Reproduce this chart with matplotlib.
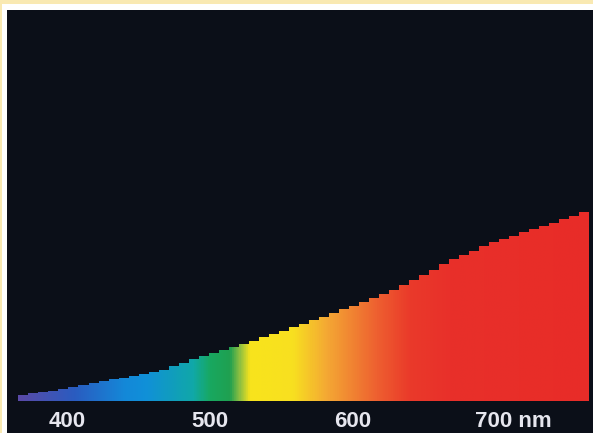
import numpy as np
import matplotlib
matplotlib.use("Agg")
import matplotlib.pyplot as plt
from matplotlib.colors import LinearSegmentedColormap
from matplotlib.patches import Rectangle
from matplotlib.transforms import ScaledTranslation

# spectrum steps: left edge wavelength (nm) of each step, step width 7 nm
wavelengths = [366, 373, 380, 387, 394, 401, 408, 415, 422, 429,
               436, 443, 450, 457, 464, 471, 478, 485, 492, 499,
               506, 513, 520, 527, 534, 541, 548, 555, 562, 569,
               576, 583, 590, 597, 604, 611, 618, 625, 632, 639,
               646, 653, 660, 667, 674, 681, 688, 695, 702, 709,
               716, 723, 730, 737, 744, 751, 758]
step_width = 7
# relative power of each step
power = [6, 8, 9, 10, 12, 14, 16, 18, 20, 22,
         23, 25, 27, 29, 31, 35, 38, 42, 45, 48,
         51, 54, 57, 60, 64, 67, 70, 74, 77, 81,
         84, 88, 92, 95, 99, 103, 107, 111, 116, 121,
         126, 131, 137, 142, 146, 150, 155, 159, 162, 165,
         169, 172, 175, 178, 182, 185, 189]

tick_values = [400, 500, 600, 700]
tick_labels = ["400", "500", "600", "700 nm"]

# colour of the light along the spectrum
color_stops = [(366, "#5a4aa8"), (405, "#2a5cc0"), (440, "#1488d8"),
               (455, "#1090d8"), (488, "#10a8a8"), (500, "#18a860"),
               (514, "#20a050"), (521, "#90c040"), (528, "#f8e41c"),
               (558, "#f8e020"), (582, "#f4a834"), (617, "#ee6030"),
               (640, "#ea3a2a"), (668, "#e8302a"), (765, "#e82c28")]

W, H = 593, 433
fig = plt.figure(figsize=(W / 100, H / 100), dpi=100)
fig.patch.set_facecolor("#f9e9b2")
# white frame and black panel
fig.patches.append(Rectangle((2 / W, 0), 1, (H - 4) / H, transform=fig.transFigure,
                             facecolor="white", edgecolor="none", zorder=-2))
fig.patches.append(Rectangle((7 / W, 0), 1, (H - 10) / H, transform=fig.transFigure,
                             facecolor="#0b0f18", edgecolor="none", zorder=-1))

ax = fig.add_axes([7 / W, (H - 401) / H, (W - 7) / W, (401 - 10) / H])
ax.set_facecolor("#0b0f18")

edges = wavelengths + [wavelengths[-1] + step_width]
steps = ax.stairs(power, edges, baseline=0, fill=True, color="none", linewidth=0)

lo, hi = color_stops[0][0], color_stops[-1][0]
cmap = LinearSegmentedColormap.from_list(
    "spectrum", [((w - lo) / (hi - lo), c) for w, c in color_stops])
grad = np.linspace(lo, hi, 800).reshape(1, -1)
im = ax.imshow(grad, cmap=cmap, vmin=lo, vmax=hi, aspect="auto",
               extent=(lo, hi, 0, max(power) + 5), interpolation="bilinear")
im.set_clip_path(steps)

ax.set_xlim(358, 767.8)
ax.set_ylim(0, 391)
ax.set_yticks([])
ax.set_xticks(tick_values)
ax.set_xticklabels(tick_labels, fontsize=16, fontweight="bold",
                   family="Liberation Sans", color="#e6e6ee")
ax.tick_params(axis="x", length=0, pad=7)
for s in ax.spines.values():
    s.set_visible(False)

# keep "700" under its tick, "nm" trailing
last = ax.get_xticklabels()[-1]
last.set_transform(last.get_transform() + ScaledTranslation(0.175, 0, fig.dpi_scale_trans))

fig.savefig("out.png", dpi=100, facecolor=fig.get_facecolor())
